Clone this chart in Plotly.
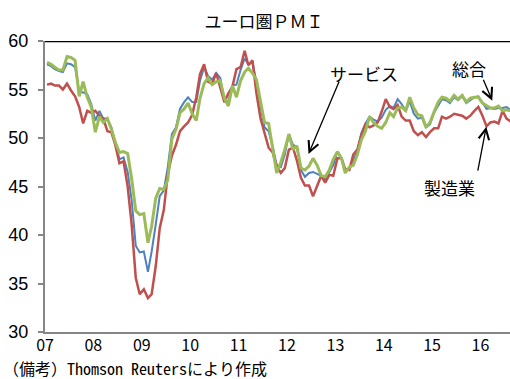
import pandas as pd
import plotly.graph_objects as go

# Monthly Euro-area PMI, Jan 2007 - Aug 2016
composite = [
    57.6, 57.4, 57.1, 56.9, 56.8, 57.7, 57.6, 57.3, 54.8, 54.7, 54.5, 53.5,
    51.8, 52.8, 52.0, 52.0, 51.1, 49.3, 47.8, 48.0, 46.5, 43.6, 38.9, 38.2,
    38.3, 36.2, 38.3, 41.1, 44.0, 44.6, 47.0, 50.4, 51.1, 53.0, 53.7, 54.2,
    53.7, 53.7, 55.9, 57.3, 56.4, 56.0, 56.7, 56.2, 53.8, 53.8, 55.4, 55.5,
    57.0, 58.2, 57.6, 57.8, 55.8, 53.3, 51.1, 50.7, 49.1, 47.2, 47.0, 48.3,
    50.4, 49.3, 49.1, 46.7, 46.0, 46.4, 46.5, 46.3, 46.1, 45.7, 46.5, 47.2,
    48.6, 47.9, 46.5, 46.9, 47.7, 48.7, 50.5, 51.5, 52.2, 51.9, 51.7, 52.1,
    52.9, 53.3, 53.1, 54.0, 53.5, 52.8, 53.8, 52.5, 52.0, 52.1, 51.1, 51.4,
    52.6, 53.3, 54.0, 53.9, 53.6, 54.2, 53.9, 54.3, 53.6, 53.9, 54.2, 54.3,
    53.6, 53.0, 53.1, 53.0, 53.1, 53.1, 53.2, 52.9,
]
manufacturing = [
    55.5, 55.6, 55.4, 55.4, 55.0, 55.6, 54.9, 54.3, 53.2, 51.5, 52.8, 52.6,
    52.8, 52.3, 52.0, 50.7, 50.6, 49.2, 47.4, 47.6, 45.0, 41.1, 35.6, 33.9,
    34.4, 33.5, 33.9, 36.8, 40.7, 42.6, 46.3, 48.2, 49.3, 50.7, 51.2, 51.6,
    52.4, 54.2, 56.6, 57.6, 55.8, 55.6, 56.7, 55.1, 53.7, 54.6, 55.3, 57.1,
    57.3, 59.0, 57.5, 58.0, 54.6, 52.0, 50.4, 49.0, 48.5, 47.1, 46.4, 46.9,
    48.8, 49.0, 47.7, 45.9, 45.1, 45.1, 44.0, 45.1, 46.1, 45.4, 46.2, 46.1,
    47.9, 47.9, 46.8, 46.7, 48.3, 48.8, 50.3, 51.4, 51.1, 51.3, 51.6, 52.7,
    54.0, 53.2, 53.0, 53.4, 52.2, 51.8, 51.8, 50.7, 50.3, 50.6, 50.1, 50.6,
    51.0, 51.0, 52.2, 52.0, 52.2, 52.5, 52.4, 52.3, 52.0, 52.3, 52.8, 53.2,
    52.3, 51.2, 51.6, 51.7, 51.5, 52.8, 52.0, 51.7,
]
services = [
    57.8, 57.6, 57.3, 57.0, 57.0, 58.4, 58.3, 58.0, 54.3, 55.8, 54.2, 53.2,
    50.6, 52.2, 51.6, 52.0, 50.9, 49.5, 48.5, 48.6, 48.4, 45.8, 42.5, 42.1,
    42.2, 39.2, 40.9, 43.8, 44.8, 44.7, 45.7, 49.9, 50.9, 52.6, 53.0, 53.6,
    52.5, 51.8, 54.1, 55.6, 56.2, 55.5, 55.8, 55.9, 54.1, 53.3, 55.4, 54.2,
    55.9, 56.8, 57.2, 56.7, 56.0, 53.7, 51.6, 51.5, 48.8, 46.4, 47.5, 48.8,
    50.4, 48.8, 49.2, 46.9, 46.7, 47.1, 47.9, 47.2, 46.1, 46.0, 46.7, 47.8,
    48.6, 47.9, 46.4, 47.0, 47.2, 48.3, 49.8, 50.7, 52.2, 51.6, 51.2, 51.0,
    51.6, 52.6, 52.2, 53.1, 53.2, 52.8, 54.2, 53.1, 52.4, 52.3, 51.1, 51.6,
    52.7, 53.7, 54.2, 54.1, 53.8, 54.4, 54.0, 54.4, 53.7, 54.1, 54.2, 54.2,
    53.6, 53.3, 53.1, 53.1, 53.3, 52.8, 52.9, 52.8,
]
months = pd.date_range("2007-01-01", periods=len(composite), freq="MS") + pd.Timedelta(days=15)
tick_vals = [f"{y}-01-01" for y in range(2007, 2017)]
tick_text = ["07", "08", "09", "10", "11", "12", "13", "14", "15", "16"]

JP = "Noto Sans CJK JP"

fig = go.Figure()
fig.add_trace(go.Scatter(x=months, y=composite, mode="lines", name="総合",
                         line=dict(color="#4F81BD", width=2)))
fig.add_trace(go.Scatter(x=months, y=manufacturing, mode="lines", name="製造業",
                         line=dict(color="#C0504D", width=2.5)))
fig.add_trace(go.Scatter(x=months, y=services, mode="lines", name="サービス",
                         line=dict(color="#9BBB59", width=3)))

fig.update_layout(
    width=510, height=379,
    margin=dict(l=45, r=0, t=41, b=47),
    paper_bgcolor="white", plot_bgcolor="white",
    showlegend=False,
    title=dict(text="ユーロ圏ＰＭＩ", x=264/510, xref="container", xanchor="center",
               y=1-22/379, yref="container", yanchor="middle",
               font=dict(family=JP, size=17, color="black")),
    xaxis=dict(range=["2007-01-01", "2016-08-11"], tickvals=tick_vals, ticktext=tick_text,
               showline=True, linecolor="#868686", linewidth=2, ticks="",
               showgrid=False, zeroline=False, ticklabelstandoff=-2,
               tickfont=dict(family=JP, size=16, color="black")),
    yaxis=dict(range=[30, 60], dtick=5, showline=True, linecolor="#868686", linewidth=2,
               ticks="outside", ticklen=5, tickwidth=1.5, tickcolor="#868686",
               showgrid=False, zeroline=False, ticklabelstandoff=6,
               tickfont=dict(family="Liberation Sans", size=18, color="black")),
)

fig.add_shape(type="line", xref="paper", yref="y", x0=0, x1=1, y0=60, y1=60,
              line=dict(color="black", width=2.5))

def label(text, x, y):
    fig.add_annotation(x=x, y=y, xref="x", yref="y", text=text, showarrow=False,
                       font=dict(family=JP, size=17, color="black"))

def arrow(x_tail, y_tail, x_head, y_head):
    fig.add_annotation(x=x_head, y=y_head, ax=x_tail, ay=y_tail, xref="x", yref="y",
                       axref="x", ayref="y", text="", showarrow=True,
                       arrowhead=5, arrowsize=1.6, arrowwidth=1.3, arrowcolor="black",
                       standoff=0, startstandoff=0)

label("サービス", "2013-08-08", 56.65)
arrow("2013-02-03", 55.98, "2012-06-12", 48.35)
label("総合", "2015-10-05", 57.16)
arrow("2016-01-18", 56.15, "2016-03-30", 53.85)
label("製造業", "2015-05-12", 44.85)
arrow("2015-12-10", 46.49, "2016-02-14", 51.17)

fig.add_annotation(x=-43/465, y=(332-367.8)/291, xref="paper", yref="paper",
                   xanchor="left", yanchor="middle", showarrow=False, borderpad=0,
                   text="（備考）Thomson Reutersにより作成",
                   font=dict(family="Noto Sans Mono CJK JP, Noto Sans CJK JP", size=16, color="black"))

fig.write_html("out.html")
